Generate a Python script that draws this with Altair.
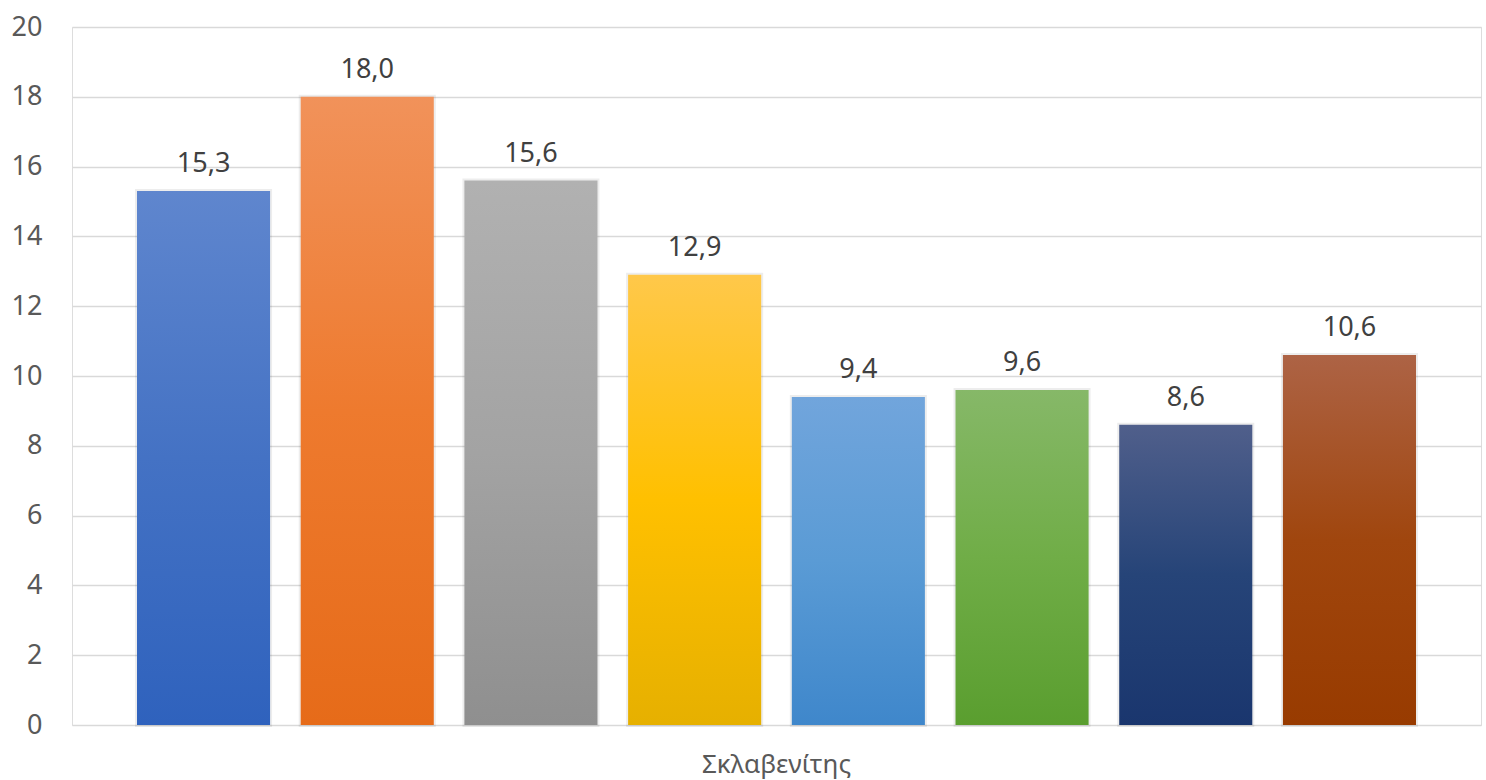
import altair as alt
import pandas as pd

store = "Σκλαβενίτης"
series = ["S1", "S2", "S3", "S4", "S5", "S6", "S7", "S8"]
values = [15.3, 18.0, 15.6, 12.9, 9.4, 9.6, 8.6, 10.6]
# gradient colours (top, middle, bottom) per series
tops = ["#5F86CE", "#F1925A", "#B1B1B1", "#FFC84A", "#71A5DC", "#86B868", "#505F8B", "#AD6345"]
mids = ["#4472C4", "#EE7A2E", "#A3A3A3", "#FFC000", "#5A9BD5", "#70AD47", "#264478", "#A0460E"]
bots = ["#2F62BD", "#E66B19", "#8F8F8F", "#E6B000", "#3F87CB", "#5A9E2F", "#1A366E", "#983B00"]

df = pd.DataFrame({"store": [store] * len(series), "series": series, "value": values})

FONT = "Noto Sans"

base = alt.Chart(df).encode(
    x=alt.X("store:N", title=None, scale=alt.Scale(paddingInner=0, paddingOuter=0),
            axis=alt.Axis(labelAngle=0, labelFontSize=26, labelColor="#595959", labelFont=FONT,
                          labelPadding=26, ticks=False, domain=False, grid=False)),
    xOffset=alt.XOffset("series:N", scale=alt.Scale(domain=series, paddingInner=0.187, paddingOuter=0.397)),
    y=alt.Y("value:Q", title=None,
            scale=alt.Scale(domain=[0, 20], nice=False),
            axis=alt.Axis(values=list(range(0, 21, 2)), labelFontSize=27, labelColor="#595959",
                          labelFont=FONT, labelPadding=30, ticks=False, domain=False,
                          gridColor="#D9D9D9", gridWidth=1.5)),
)

shadow = base.mark_bar(fill=None, stroke="#000000", strokeWidth=4, strokeOpacity=0.07)

layers = [shadow]
for s, t, m, b in zip(series, tops, mids, bots):
    grad = alt.Gradient(
        gradient="linear",
        stops=[alt.GradientStop(color=t, offset=0),
               alt.GradientStop(color=m, offset=0.5),
               alt.GradientStop(color=b, offset=1)],
        x1=0, x2=0, y1=0, y2=1,
    )
    layers.append(base.mark_bar(color=grad).transform_filter(alt.datum.series == s))

labels = base.transform_calculate(
    lab="replace(format(datum.value, '.1f'), '.', ',')"
).mark_text(baseline="alphabetic", dy=-19, fontSize=27, color="#404040", font=FONT).encode(
    text="lab:N"
)

chart = alt.layer(*layers, labels).properties(
    width=1409, height=698,
    padding={"left": 72, "top": 27, "right": 5, "bottom": 55},
    autosize=alt.AutoSizeParams(type="none"),
).configure_view(stroke=None).configure(background="white")

chart.save("out.html", embed_options={"renderer": "svg", "actions": False})
